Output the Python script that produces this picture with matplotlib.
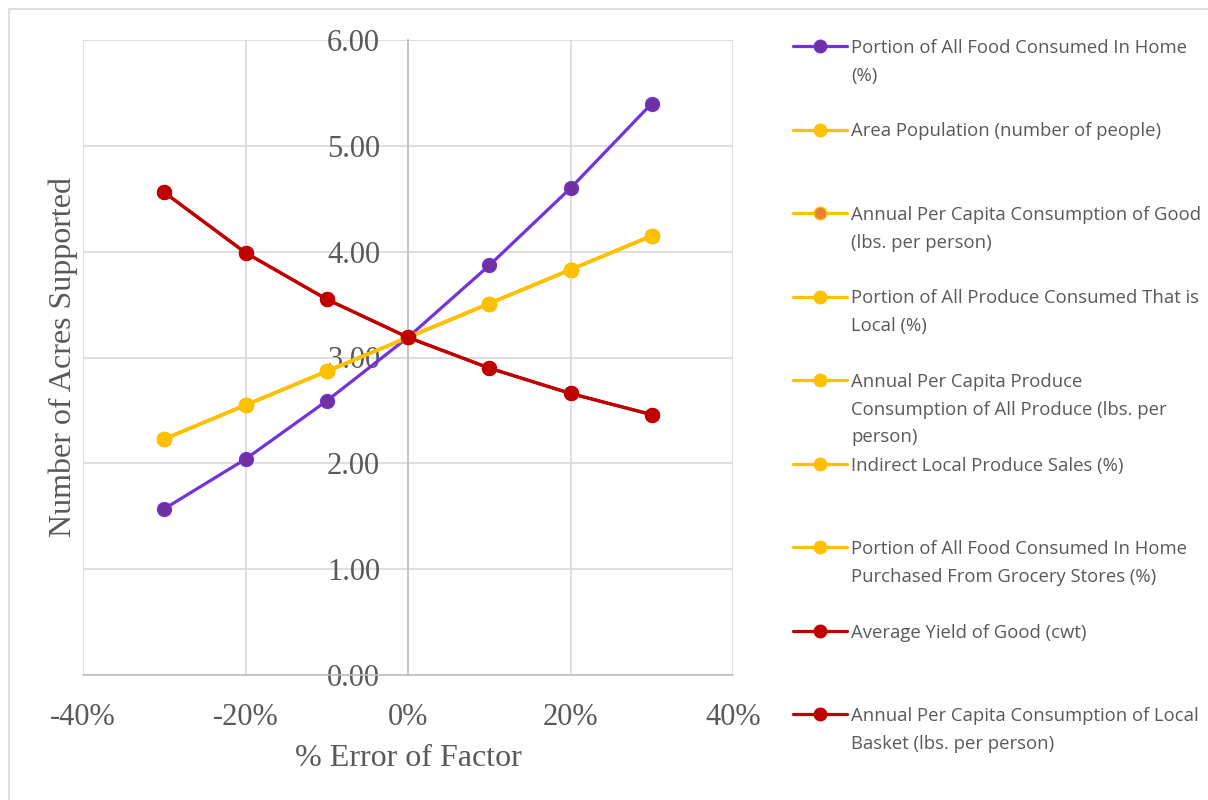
import matplotlib
matplotlib.use("Agg")
import matplotlib.pyplot as plt
from matplotlib.lines import Line2D
from matplotlib.patches import Rectangle

# error applied to each input factor (%)
error_pct = [-30, -20, -10, 0, 10, 20, 30]

# acres supported for each factor, one list per group of identical responses
food_in_home = [1.57, 2.04, 2.59, 3.19, 3.87, 4.60, 5.40]
linear_factors = [2.23, 2.55, 2.87, 3.19, 3.51, 3.83, 4.15]
inverse_factors = [4.56, 3.99, 3.55, 3.19, 2.90, 2.66, 2.46]

labels = [
    "Portion of All Food Consumed In Home\n(%)",
    "Area Population (number of people)",
    "Annual Per Capita Consumption of Good\n(lbs. per person)",
    "Portion of All Produce Consumed That is\nLocal (%)",
    "Annual Per Capita Produce\nConsumption of All Produce (lbs. per\nperson)",
    "Indirect Local Produce Sales (%)",
    "Portion of All Food Consumed In Home\nPurchased From Grocery Stores (%)",
    "Average Yield of Good (cwt)",
    "Annual Per Capita Consumption of Local\nBasket (lbs. per person)",
]
series_values = [food_in_home] + [linear_factors] * 6 + [inverse_factors] * 2

PURPLE_LINE = "#7232DC"
PURPLE_FACE = "#7030A0"
YELLOW = "#FFC000"
ORANGE = "#ED7D31"
RED = "#C00000"
line_colors = [PURPLE_LINE] + [YELLOW] * 6 + [RED] * 2
face_colors = [PURPLE_FACE, YELLOW, ORANGE, YELLOW, YELLOW, YELLOW, YELLOW, RED, RED]

TEXT = "#595959"
GRID = "#D9D9D9"
AXIS = "#BFBFBF"

W, H = 1208, 800
fig = plt.figure(figsize=(W / 100, H / 100), dpi=100)
fig.patch.set_facecolor("white")

# outer chart border
fig.add_artist(Rectangle((9 / W, -0.1), 1.2, (H - 9) / H + 0.1,
                         transform=fig.transFigure, fill=False,
                         edgecolor="#D9D9D9", linewidth=1.2))

ax = fig.add_axes([83 / W, 1 - 675 / H, (733 - 83) / W, (675 - 40) / H])
ax.set_xlim(-40, 40)
ax.set_ylim(0, 6)

for vals, lc, fc in zip(series_values, line_colors, face_colors):
    ax.plot(error_pct, vals, color=lc, linewidth=2.3, marker="o",
            markersize=10, markerfacecolor=fc, markeredgecolor=lc,
            markeredgewidth=1.0, solid_capstyle="round", zorder=3)

ax.set_xticks(range(-40, 41, 20))
ax.set_xticklabels([f"{v}%" for v in range(-40, 41, 20)])
ax.set_yticks([i for i in range(7)])
ax.set_yticklabels([f"{i:.2f}" for i in range(7)])
ax.grid(True, color=GRID, linewidth=1.2, zorder=0)
ax.set_axisbelow(True)

for side in ["top", "right"]:
    ax.spines[side].set_visible(False)
ax.spines["left"].set_position(("data", 0))
ax.spines["left"].set_color(AXIS)
ax.spines["left"].set_linewidth(1.2)
ax.spines["bottom"].set_color(AXIS)
ax.spines["bottom"].set_linewidth(1.2)

serif = "Liberation Serif"
ax.tick_params(axis="both", length=0, labelcolor=TEXT, labelsize=22)
ax.tick_params(axis="y", pad=20)
ax.tick_params(axis="x", pad=20)
for t in ax.get_xticklabels() + ax.get_yticklabels():
    t.set_fontfamily(serif)

fig.text(408 / W, 1 - 758 / H, "% Error of Factor", family=serif, fontsize=23,
         color=TEXT, ha="center", va="center")
fig.text(63 / W, 1 - 357 / H, "Number of Acres Supported", family=serif,
         fontsize=23, color=TEXT, ha="center", va="center", rotation=90)

# legend, one entry every ~83.5 px down the right side
sans = "Open Sans"
y0 = 46
step = 83.5
for i, (lab, lc, fc) in enumerate(zip(labels, line_colors, face_colors)):
    yy = 1 - (y0 + i * step) / H
    fig.add_artist(Line2D([793 / W, 847 / W], [yy, yy], transform=fig.transFigure,
                          color=lc, linewidth=2.3, solid_capstyle="round"))
    fig.add_artist(Line2D([820 / W], [yy], transform=fig.transFigure, marker="o",
                          markersize=9, markerfacecolor=fc, markeredgecolor=lc,
                          markeredgewidth=1.0, linestyle="none"))
    fig.text(851 / W, yy + 7 / H, lab, family=sans, fontsize=13.3, color=TEXT,
             ha="left", va="top", linespacing=1.69)

fig.savefig("out.png", dpi=100, facecolor="white")
